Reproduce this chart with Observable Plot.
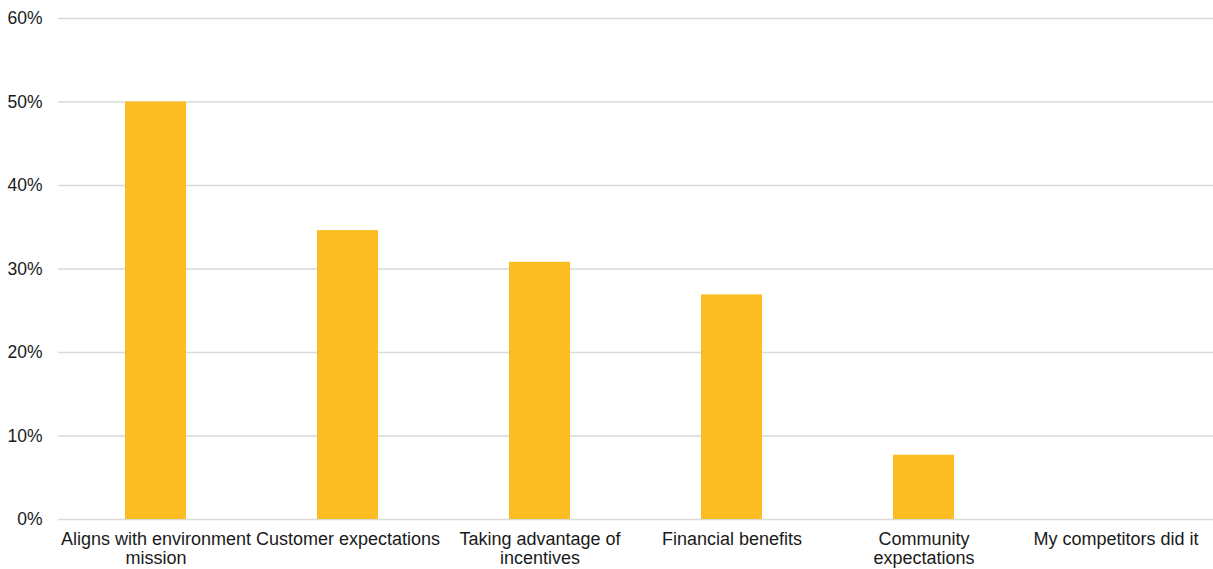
<!DOCTYPE html>
<html>
<head>
<meta charset="utf-8">
<script src="https://cdn.jsdelivr.net/npm/d3@7"></script>
<script src="https://cdn.jsdelivr.net/npm/@observablehq/plot@0.6"></script>
<style>
  html, body { margin: 0; padding: 0; background: #fff; }
  #chart svg { display: block; }
</style>
</head>
<body>
<div id="chart"></div>
<script>
// Reasons for adopting sustainable practices (share of respondents)
const reasons = [
  "Aligns with environment mission",
  "Customer expectations",
  "Taking advantage of incentives",
  "Financial benefits",
  "Community expectations",
  "My competitors did it"
];
const shares = [50.0, 34.6, 30.8, 26.9, 7.7, 0];
// Wrapped axis labels, one per reason
const reasonLabels = [
  "Aligns with environment\nmission",
  "Customer expectations",
  "Taking advantage of\nincentives",
  "Financial benefits",
  "Community\nexpectations",
  "My competitors did it"
];
const yTicks = [0, 10, 20, 30, 40, 50, 60];

const data = reasons.map((r, i) => ({reason: r, share: shares[i]}));
const labelOf = new Map(reasons.map((r, i) => [r, reasonLabels[i]]));

const chart = Plot.plot({
  width: 1213,
  height: 569,
  marginLeft: 58,
  marginRight: 0,
  marginTop: 18,
  marginBottom: 50,
  style: {fontFamily: "'Liberation Sans', Arial, sans-serif", fontSize: "17px", color: "#1a1a1a", overflow: "visible"},
  x: {domain: reasons, paddingInner: 0.683, paddingOuter: 0.3415, align: 0.5, label: null},
  y: {domain: [0, 60], label: null},
  marks: [
    Plot.ruleY(yTicks, {stroke: "#d9d9d9", strokeWidth: 1.3}),
    Plot.barY(data, {x: "reason", y: "share", fill: "#fbbd22"}),
    Plot.axisY({ticks: yTicks, tickSize: 0, tickPadding: 16, tickFormat: d => d + "%", fontSize: 17.5, label: null}),
    Plot.axisX({tickSize: 0, tickPadding: 11, tickFormat: d => labelOf.get(d), fontSize: 18, lineHeight: 1.1, label: null})
  ]
});
document.getElementById("chart").appendChild(chart);
</script>
</body>
</html>
